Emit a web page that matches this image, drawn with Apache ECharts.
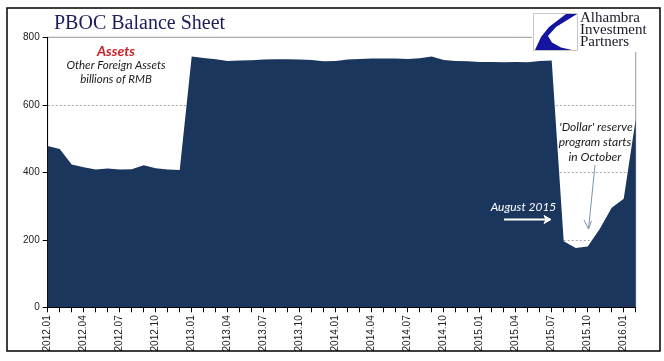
<!DOCTYPE html>
<html><head><meta charset="utf-8">
<script src="https://cdn.jsdelivr.net/npm/echarts@6/dist/echarts.min.js"></script>
<style>html,body{margin:0;padding:0;background:#fff}#c{width:664px;height:361px}</style>
</head><body><div id="c"></div>
<script>
const categories = [
 '2012.01','2012.02','2012.03','2012.04','2012.05','2012.06','2012.07','2012.08','2012.09','2012.10','2012.11','2012.12',
 '2013.01','2013.02','2013.03','2013.04','2013.05','2013.06','2013.07','2013.08','2013.09','2013.10','2013.11','2013.12',
 '2014.01','2014.02','2014.03','2014.04','2014.05','2014.06','2014.07','2014.08','2014.09','2014.10','2014.11','2014.12',
 '2015.01','2015.02','2015.03','2015.04','2015.05','2015.06','2015.07','2015.08','2015.09','2015.10','2015.11','2015.12',
 '2016.01','2016.02'];
const otherForeignAssets = [
 478,469,423,415,408,411,408,409,421,412,408,407,
 743,739,735,730,731,732,734,735,735,734,733,729,
 730,734,736,737,737,737,736,738,743,733,730,729,
 727,727,726,727,726,730,731,196,176,180,232,295,
 322,557];
const yTicks = [0,200,400,600,800];

const chart = echarts.init(document.getElementById('c'), null, {renderer:'canvas'});
const navy = '#1b365d';
chart.setOption({
  animation:false,
  backgroundColor:'#fff',
  grid:{left:47.7, right:28.3, top:37.3, bottom:53.7, show:true, borderColor:'#9a9a9a', borderWidth:1, backgroundColor:'transparent'},
  xAxis:{type:'category', data:categories, boundaryGap:false,
    axisLine:{lineStyle:{color:'#000', width:1}},
    axisTick:{interval:0, length:5, lineStyle:{color:'#000'}},
    axisLabel:{interval:2, rotate:90, margin:8, fontFamily:'Liberation Sans', fontSize:10, color:'#222'},
    splitLine:{show:false}},
  yAxis:{type:'value', min:0, max:800, interval:200,
    axisLine:{show:true, lineStyle:{color:'#000', width:1}},
    axisTick:{show:true, length:5, lineStyle:{color:'#000'}},
    axisLabel:{margin:8, fontFamily:'Liberation Sans', fontSize:10, color:'#222',
      formatter:v=>yTicks.includes(v)?String(v):''},
    splitLine:{show:true, lineStyle:{color:'#a8a8a8', type:[2,2], width:1}}},
  series:[{type:'line', data:otherForeignAssets, showSymbol:false, symbol:'none',
    lineStyle:{width:0}, areaStyle:{color:navy, opacity:1}, z:2}],
  graphic:[
    {type:'rect', shape:{x:7, y:8, width:653, height:343}, style:{fill:'none', stroke:'#000', lineWidth:1.5}, z:100},
    {type:'text', x:54, y:24, style:{text:'PBOC Balance Sheet', font:'20px "Liberation Serif"', fill:'#1c1c5c', verticalAlign:'middle'}, z:100},
    {type:'rect', shape:{x:532, y:10, width:125, height:42}, style:{fill:'#fff'}, z:100},
    {type:'rect', shape:{x:533.5, y:13.5, width:44, height:37}, style:{fill:'#fff', stroke:'#c8c8c8', lineWidth:1}, z:101},
    {type:'polygon', shape:{points:[[577,14],[566,14],[549,27],[541,37],[535,50],[572,50],[561,47.5],[552,42.5],[548,36],[556,27]]}, style:{fill:'#1414a0'}, z:102},
    {type:'text', x:580, y:18.5, style:{text:'Alhambra', font:'15px "Liberation Serif"', fill:'#1a1a2a', verticalAlign:'middle'}, z:102},
    {type:'text', x:580, y:30.5, style:{text:'Investment', font:'15px "Liberation Serif"', fill:'#1a1a2a', verticalAlign:'middle'}, z:102},
    {type:'text', x:580, y:42.5, style:{text:'Partners', font:'15px "Liberation Serif"', fill:'#1a1a2a', verticalAlign:'middle'}, z:102},
    {type:'text', x:116, y:51, style:{text:'Assets', font:'italic bold 14px Lato', fill:'#c8202a', align:'center', verticalAlign:'middle'}, z:100},
    {type:'text', x:116, y:65, style:{text:'Other Foreign Assets', font:'italic 11.5px Lato', fill:'#1a1a1a', align:'center', verticalAlign:'middle'}, z:100},
    {type:'text', x:116, y:79.5, style:{text:'billions of RMB', font:'italic 11.5px Lato', fill:'#1a1a1a', align:'center', verticalAlign:'middle'}, z:100},
    {type:'text', x:596, y:127.5, style:{text:"'Dollar' reserve", font:'italic 12px Lato', fill:'#1a1a1a', align:'center', verticalAlign:'middle'}, z:100},
    {type:'text', x:595, y:142, style:{text:'program starts', font:'italic 12px Lato', fill:'#1a1a1a', align:'center', verticalAlign:'middle'}, z:100},
    {type:'text', x:595, y:157, style:{text:'in October', font:'italic 12px Lato', fill:'#1a1a1a', align:'center', verticalAlign:'middle'}, z:100},
    {type:'line', shape:{x1:595, y1:165, x2:588.5, y2:229}, style:{stroke:'#7f93b2', lineWidth:1}, z:100},
    {type:'polyline', shape:{points:[[584,220],[588.5,229],[591.5,221]]}, style:{stroke:'#7f93b2', lineWidth:1, fill:'none'}, z:100},
    {type:'text', x:523.5, y:207, style:{text:'August 2015', font:'italic 12px Lato', fill:'#fff', align:'center', verticalAlign:'middle'}, z:100},
    {type:'line', shape:{x1:504, y1:219.5, x2:548, y2:219.5}, style:{stroke:'#fff', lineWidth:2}, z:100},
    {type:'polygon', shape:{points:[[551,219.5],[544,215.5],[546,219.5],[544,223.5]]}, style:{fill:'#fff', stroke:'#fff', lineWidth:1}, z:100}
  ]
});
</script></body></html>
